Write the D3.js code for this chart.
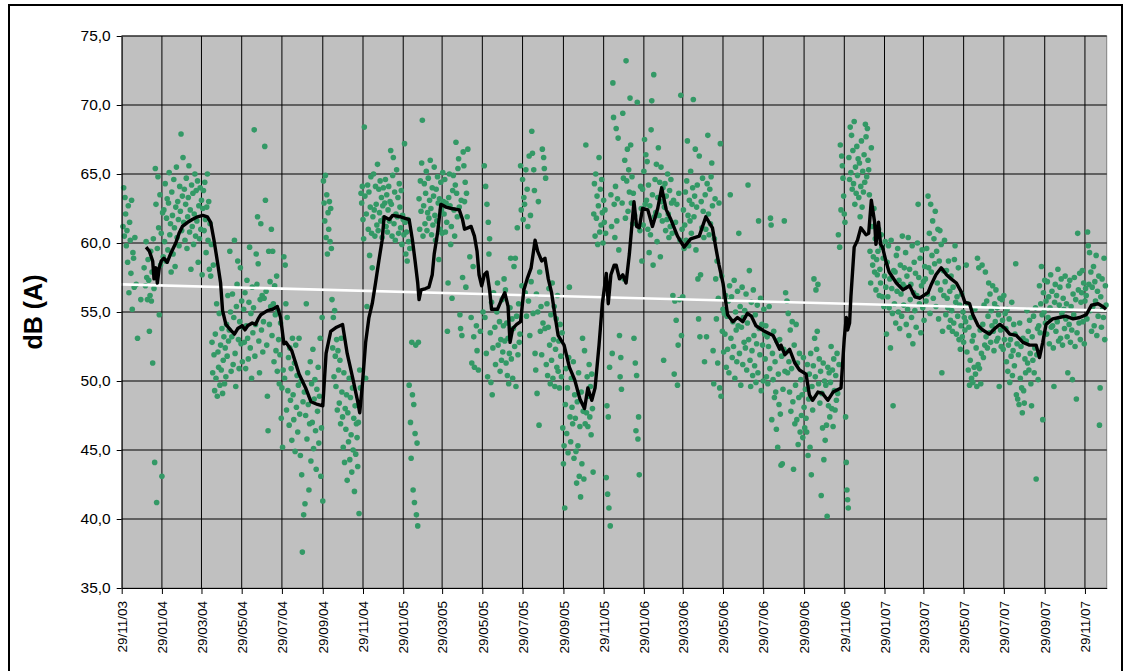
<!DOCTYPE html>
<html>
<head>
<meta charset="utf-8">
<script src="https://cdn.jsdelivr.net/npm/d3@7"></script>
<style>
  body { margin: 0; background: #fff; }
  text { font-family: "Liberation Sans", Arial, sans-serif; }
</style>
</head>
<body>
<div id="chart"></div>
<script>
// x axis labels, one every two months
const xTickLabels = ["29/11/03","29/01/04","29/03/04","29/05/04","29/07/04","29/09/04","29/11/04",
  "29/01/05","29/03/05","29/05/05","29/07/05","29/09/05","29/11/05","29/01/06","29/03/06",
  "29/05/06","29/07/06","29/09/06","29/11/06","29/01/07","29/03/07","29/05/07","29/07/07",
  "29/09/07","29/11/07"];
const yTicks = [35, 40, 45, 50, 55, 60, 65, 70, 75];
const xDomain = ["2003-11-29", "2008-01-01"];

// daily readings dB(A): one inner array per month, index = day - 1, empty slot = no reading
const db2003 = [
  [61.2,64.0,60.5,63.3,62.1,59.8,60.9,58.6,62.7,56.4,61.5,60.2,57.8,63.1,55.2,59.3,58.9,56.8,60.4,,57.0,,53.1,,,,,55.9]
];
const db2004 = [
  [,58.2,,56.9,60.1,57.5,55.9,58.8,57.3,53.6,56.2,59.4,55.8,57.9,51.3,60.3,56.7,44.1,65.4,62.8,41.2,59.6,64.8,61.1,54.8,63.5,58.4,60.7,43.1,62.2,59.0],
  [62.4,60.1,64.3,58.7,61.8,63.2,59.5,62.9,65.1,60.6,61.4,57.9,63.7,62.0,59.2,64.6,61.1,58.3,62.6,65.5,60.4,63.0,61.7,59.8,64.1,62.3,67.9,60.9,63.4],
  [66.2,61.5,63.9,60.2,62.8,64.7,59.6,61.9,63.3,65.6,60.8,62.4,58.1,64.2,61.2,63.6,59.9,62.1,65.0,60.5,63.8,61.6,64.5,58.6,62.7,60.3,64.0,61.0,63.1,57.7,62.5],
  [63.8,60.9,64.4,61.7,59.3,62.6,65.0,60.2,63.0,58.1,61.4,57.6,59.9,52.8,50.6,58.4,51.9,49.3,53.4,50.2,55.6,48.9,52.1,51.0,54.9,49.7,52.6,50.8,53.8,49.1],
  [51.5,53.2,49.8,52.4,50.3,54.1,51.8,56.2,52.9,53.7,59.4,55.0,50.7,53.2,56.3,51.2,54.6,60.2,52.0,49.6,55.4,57.0,58.7,53.0,50.9,54.3,58.2,52.7,55.8,51.4,53.9],
  [55.2,52.8,56.4,50.9,54.0,57.3,53.1,51.6,55.7,59.7,52.4,54.9,50.2,56.8,53.5,55.3,68.2,51.8,54.1,59.2,57.0,61.9,58.5,52.9,50.6,55.9,61.4,53.7,56.2,52.1],
  [54.3,56.0,67.0,63.1,56.5,52.6,48.9,46.4,59.4,54.1,57.2,55.4,61.0,53.3,59.4,55.6,51.4,56.9,54.8,52.2,57.6,50.7,55.1,53.0,49.8,51.9,54.2,47.3,49.5,45.2,50.8],
  [59.0,50.2,58.4,55.6,47.9,54.6,49.3,51.7,46.8,52.4,48.6,50.9,45.7,53.1,49.0,47.2,51.3,44.9,52.6,48.1,50.4,46.3,49.7,53.1,47.6,44.6,50.0,43.2,37.6,48.5,40.3],
  [49.2,41.1,47.5,55.6,45.8,50.6,48.3,42.1,46.9,51.4,44.2,49.8,47.0,52.3,45.1,48.7,50.1,46.4,43.6,49.4,47.8,51.0,45.5,48.9,53.1,43.1,46.6,54.6,41.3,64.5],
  [62.9,61.6,64.9,60.4,63.5,59.2,62.2,61.0,63.0,60.1,62.5,59.6,55.9,52.4,54.6,50.3,55.1,51.8,49.6,53.0,47.9,52.2,50.8,48.4,51.5,46.9,53.1,49.2,47.4,45.2,50.6],
  [44.1,48.0,46.5,49.0,42.8,47.7,45.6,50.2,44.3,48.8,46.1,43.4,49.5,45.0,47.3,42.0,48.2,44.7,46.9,45.9,43.8,47.0,40.4,50.8,49.5,63.6,62.9,64.1,61.7,60.3],
  [68.4,63.4,50.2,62.1,55.4,64.2,61.0,63.7,59.1,62.6,64.8,60.7,58.2,61.9,65.0,62.4,60.5,64.1,62.8,61.3,65.7,60.9,63.9,62.2,64.5,61.6,63.3,60.4,62.7,64.0,61.8]
];
const db2005 = [
  [62.9,64.6,61.2,63.5,60.8,62.4,64.1,61.6,63.0,66.7,62.8,60.5,64.9,66.2,61.4,63.7,60.2,62.1,65.3,61.9,63.3,60.7,64.3,62.6,61.1,63.8,59.9,62.0,61.7,60.6,67.2],
  [61.5,59.2,60.8,58.7,61.7,60.1,49.7,59.6,47.0,44.4,52.8,49.0,42.1,48.3,41.2,46.2,52.6,40.3,45.5,39.5,52.8,63.2,61.0,64.5,62.3,65.8,68.9,60.5],
  [62.7,64.3,61.4,63.6,65.2,60.9,62.2,64.7,61.8,63.1,66.0,62.5,60.6,64.0,61.3,63.4,65.5,62.0,60.2,63.9,61.6,64.8,62.9,58.8,63.2,61.0,64.4,62.4,60.7,65.1,63.0],
  [62.1,64.6,60.8,62.9,61.5,53.6,57.1,63.3,65.0,62.7,59.9,61.2,56.0,63.8,64.9,62.4,60.5,64.2,67.3,63.6,61.9,65.4,66.1,62.6,54.8,53.8,63.1,53.3,57.5,66.6],
  [65.6,63.0,64.4,56.8,63.6,61.9,66.8,,,59.0,,54.6,51.3,,58.3,53.2,51.0,,,54.0,52.2,,50.8,,,53.6,,,,55.0],
  [65.6,54.6,64.1,52.0,62.8,50.3,61.5,59.2,60.3,53.5,49.9,55.7,49.0,52.4,56.4,,53.9,51.2,,55.0,57.1,52.6,,54.3,50.7,53.0,51.5,55.9,52.1,54.0],
  [57.4,52.9,56.6,51.3,54.2,50.4,53.1,49.8,52.0,55.3,58.9,51.6,54.5,50.2,53.8,58.3,52.5,58.9,49.6,54.7,61.1,51.9,55.6,52.8,53.4,65.6,62.4,56.9,64.6,61.7,63.3],
  [62.8,56.4,65.3,54.7,63.9,61.2,55.8,66.3,53.3,62.0,57.2,68.1,66.5,54.9,65.3,63.8,52.0,50.8,56.3,49.1,55.0,63.0,46.8,57.9,53.6,55.4,51.9,66.8,54.2,66.2,65.4],
  [53.8,64.7,51.2,55.6,50.4,53.9,56.7,52.6,49.8,54.8,51.5,57.1,50.2,53.0,55.4,49.6,52.3,54.5,51.0,56.2,50.7,52.9,49.5,54.1,51.8,50.3,53.5,46.6,44.0,45.3],
  [40.8,48.3,50.9,46.2,49.5,44.8,51.7,56.8,47.4,45.6,50.2,48.1,46.9,51.4,44.4,49.0,47.3,44.9,42.6,48.5,45.3,50.6,43.1,46.7,41.6,49.2,44.0,53.1,47.8,42.9,52.2],
  [46.9,67.1,47.7,50.3,46.7,48.9,51.2,47.4,49.6,46.1,50.5,48.0,43.4,62.1,64.3,60.5,65.0,61.8,63.4,59.9,62.7,66.2,60.8,63.9,61.3,64.6,62.2,60.0,63.1,61.5],
  [62.4,60.7,43.0,48.2,41.8,47.4,40.8,51.0,39.5,63.5,61.2,52.0,71.6,69.1,62.8,60.4,64.1,68.3,61.6,63.2,67.6,59.5,53.3,50.3,51.7,49.4,62.9,69.4,64.7,57.4,66.0]
];
const db2006 = [
  [61.8,73.2,64.5,66.8,62.3,65.3,63.7,70.5,67.1,62.9,64.8,61.4,63.6,53.1,62.0,51.3,46.4,50.4,70.2,45.8,47.4,43.2,60.9,64.1,62.5,58.7,63.9,61.3,65.2,67.5,62.8],
  [66.4,63.1,65.9,61.0,64.2,59.3,62.7,60.6,68.2,70.3,63.5,58.4,72.2,61.9,64.6,62.2,65.7,60.1,63.3,66.9,62.0,64.4,59.0,65.5,63.0,61.6,64.0,51.5],
  [62.6,64.3,60.9,63.4,61.7,65.0,62.1,60.4,63.8,61.2,64.6,62.9,60.7,56.2,63.1,50.5,55.8,61.5,54.4,62.8,49.7,52.6,63.6,55.9,60.2,70.7,53.3,61.0,56.1,62.4,59.6],
  [61.3,63.7,60.2,64.5,67.4,62.0,59.8,63.1,61.6,65.2,60.7,62.8,64.0,70.4,61.9,63.4,66.8,59.5,62.6,64.2,57.4,54.5,66.3,53.2,57.7,63.0,61.1,64.7,62.3,60.4],
  [51.4,63.5,61.0,53.2,64.3,67.8,62.1,60.6,63.9,61.4,64.8,65.8,62.7,52.2,49.8,60.3,63.2,57.4,54.5,58.7,51.3,56.0,62.9,49.5,67.2,48.9,57.6,53.6,55.2,52.1,54.9],
  [53.4,56.2,51.0,54.7,52.3,55.8,50.6,56.9,63.5,53.1,56.1,51.7,54.3,52.5,57.3,50.2,55.0,53.7,51.4,56.5,54.0,60.7,52.0,55.4,49.7,53.9,56.8,51.2,54.6,52.8],
  [55.1,52.4,56.3,50.8,54.2,64.2,53.0,58.0,51.5,49.6,55.7,52.2,50.4,56.6,53.3,51.1,54.8,49.9,52.7,55.5,50.6,61.6,53.8,51.9,56.0,49.3,54.1,52.6,50.0,55.2,53.4],
  [51.6,54.0,50.3,53.2,49.8,52.5,55.4,50.9,61.8,61.3,47.2,52.0,50.1,53.6,48.8,51.4,49.2,46.5,52.9,45.2,50.5,48.3,53.0,47.6,43.9,51.8,44.0,49.4,52.3,61.6,50.7],
  [56.4,52.1,55.8,50.6,54.9,51.4,49.2,53.7,47.8,50.9,54.3,48.5,43.6,52.6,46.9,49.7,54.1,47.2,51.3,45.4,48.8,52.0,46.3,50.1,47.5,49.0,45.9,51.7,48.1,46.6],
  [49.4,47.3,46.3,51.2,44.6,48.7,50.5,45.2,52.0,43.2,49.6,47.9,51.1,57.4,53.1,50.3,56.6,52.3,53.6,57.0,49.8,51.6,48.4,50.7,41.7,49.1,46.6,51.3,44.3,50.0,45.7],
  [49.7,46.8,40.2,51.0,48.2,50.6,47.4,49.9,52.5,48.0,50.8,46.7,51.6,49.3,47.9,50.4,48.6,52.0,49.1,60.6,51.2,59.7,67.1,62.4,66.3,65.6,64.7,63.4,62.1,61.5],
  [47.4,44.1,42.1,41.4,40.8,66.2,64.6,68.4,65.1,67.8,63.9,66.7,64.3,68.8,62.8,65.5,63.6,67.0,64.9,66.1,63.3,65.8,61.9,64.1,67.4,62.6,65.2,63.7,66.4,64.4,68.6]
];
const db2007 = [
  [67.7,64.8,68.3,66.0,65.3,63.5,59.4,57.1,66.9,61.2,58.4,59.0,62.5,57.9,60.3,56.6,58.8,57.7,59.4,61.0,56.2,58.1,57.1,60.6,59.7,56.1,58.9,55.4,57.6,60.1,56.8],
  [53.4,58.6,56.1,59.8,55.3,57.4,52.4,60.2,56.7,54.9,48.2,58.0,55.6,57.9,54.2,59.1,56.5,59.6,55.0,57.3,53.8,58.4,56.3,54.7,60.5,57.0,55.5,58.2],
  [56.8,59.3,54.1,57.6,55.2,60.4,53.3,58.1,55.9,57.0,54.6,59.8,52.7,56.4,58.6,55.1,57.8,53.9,56.2,60.0,62.8,57.5,55.6,58.9,53.5,56.9,59.5,55.3,57.2,54.4,58.3],
  [57.4,55.8,59.6,56.3,63.4,58.2,60.7,54.9,62.8,57.9,59.1,61.6,56.0,60.3,58.5,62.3,55.4,59.4,57.1,61.0,54.5,58.7,60.9,56.6,59.9,50.6,53.6,58.0,56.2,60.2],
  [57.2,54.8,58.0,56.0,55.3,58.7,53.9,56.5,54.4,57.6,55.1,53.6,56.8,54.2,58.8,59.8,55.7,53.4,56.1,54.7,58.2,53.0,55.5,52.3,54.0,56.3,53.2,55.0,52.8,54.6,53.7],
  [54.3,58.4,52.1,55.6,50.8,53.9,49.7,51.5,54.6,50.2,52.9,49.9,53.3,51.0,55.2,50.5,52.4,49.6,58.9,51.2,58.2,50.9,53.7,49.8,52.0,58.4,54.1,51.7,55.5,52.6],
  [57.9,53.2,55.8,52.4,54.7,57.1,53.5,56.3,52.8,55.1,54.0,56.9,53.6,52.2,55.6,54.3,56.6,52.9,55.3,53.1,54.8,49.6,56.0,53.7,52.5,55.9,54.4,52.3,56.2,53.0,54.9],
  [53.8,51.4,55.2,50.7,52.6,54.5,49.9,53.0,51.8,55.7,50.4,52.2,54.1,51.1,53.4,58.5,49.0,52.7,48.7,51.9,48.3,54.2,50.2,52.5,49.5,47.7,53.1,49.3,48.4,51.6,50.6],
  [52.9,55.1,51.3,53.6,50.8,54.4,52.0,49.8,48.2,53.2,51.5,54.7,50.6,52.4,55.3,42.9,51.9,53.8,50.1,54.0,56.9,53.5,55.6,58.3,54.8,47.2,56.4,55.0,57.3,54.2],
  [55.8,53.4,57.2,54.6,56.1,52.7,55.3,57.7,53.9,56.5,54.0,52.4,49.6,55.7,57.0,53.6,56.2,54.3,58.1,52.9,55.5,56.8,53.1,57.4,54.9,52.6,56.0,55.2,53.8,57.6,54.5],
  [55.6,53.2,50.6,56.9,54.1,57.3,52.8,55.4,53.7,50.1,56.3,54.8,57.5,52.5,55.9,48.7,53.5,60.7,56.6,54.2,57.8,53.0,55.7,56.4,58.0,54.3,57.1,52.7,55.8,56.7],
  [56.2,54.5,60.8,59.8,57.0,59.3,55.1,57.9,53.6,56.8,55.4,58.3,54.0,57.2,55.8,59.1,53.3,56.5,54.7,57.6,46.8,49.5,56.1,53.9,57.4,55.2,54.6,58.9,53.0,56.9,55.5]
];
const dotYears = [[2003, 11, db2003], [2004, 0, db2004], [2005, 0, db2005], [2006, 0, db2006], [2007, 0, db2007]];

// moving average (black line)
const maDates = ["2004-01-05","2004-01-10","2004-01-15","2004-01-17","2004-01-20","2004-01-22","2004-01-25","2004-01-28",
  "2004-02-01","2004-02-06","2004-02-11","2004-02-19","2004-02-24","2004-02-29","2004-03-08","2004-03-15","2004-03-23",
  "2004-03-31","2004-04-07","2004-04-12","2004-04-17","2004-04-22","2004-04-27","2004-04-30","2004-05-05","2004-05-12",
  "2004-05-18","2004-05-23","2004-05-30","2004-06-03","2004-06-07","2004-06-14","2004-06-19","2004-06-23","2004-06-27",
  "2004-07-07","2004-07-15","2004-07-22","2004-07-27","2004-08-01","2004-08-04","2004-08-13","2004-08-24","2004-09-03",
  "2004-09-11","2004-09-21","2004-09-29","2004-10-04","2004-10-11","2004-10-20","2004-10-29","2004-11-05","2004-11-13",
  "2004-11-21","2004-11-24","2004-11-28","2004-12-03","2004-12-08","2004-12-13","2004-12-18","2004-12-23","2004-12-28",
  "2004-12-31","2005-01-08","2005-01-13","2005-01-25","2005-02-07","2005-02-12","2005-02-16","2005-02-20","2005-02-22",
  "2005-02-25","2005-03-04","2005-03-09","2005-03-14","2005-03-17","2005-03-22","2005-03-27","2005-04-04","2005-04-12",
  "2005-04-24","2005-04-29","2005-05-02","2005-05-07","2005-05-12","2005-05-17","2005-05-21","2005-05-24","2005-05-28",
  "2005-06-01","2005-06-05","2005-06-09","2005-06-12","2005-06-21","2005-06-29","2005-07-02","2005-07-07","2005-07-10",
  "2005-07-14","2005-07-20","2005-07-26","2005-07-31","2005-08-05","2005-08-11","2005-08-17","2005-08-21","2005-08-27",
  "2005-09-01","2005-09-06","2005-09-11","2005-09-16","2005-09-21","2005-09-30","2005-10-08","2005-10-16","2005-10-24",
  "2005-10-31","2005-11-05","2005-11-11","2005-11-16","2005-11-22","2005-11-27","2005-12-03","2005-12-06","2005-12-10",
  "2005-12-15","2005-12-18","2005-12-23","2005-12-28","2006-01-02","2006-01-07","2006-01-14","2006-01-18","2006-01-22",
  "2006-01-27","2006-02-04","2006-02-11","2006-02-19","2006-02-25","2006-03-04","2006-03-11","2006-03-21","2006-03-31",
  "2006-04-10","2006-04-23","2006-05-03","2006-05-13","2006-05-18","2006-05-23","2006-05-29","2006-06-05","2006-06-13",
  "2006-06-20","2006-06-28","2006-07-05","2006-07-11","2006-07-18","2006-07-31","2006-08-13","2006-08-23","2006-08-25",
  "2006-08-31","2006-09-07","2006-09-15","2006-09-22","2006-10-02","2006-10-07","2006-10-12","2006-10-20","2006-10-27",
  "2006-11-04","2006-11-12","2006-11-24","2006-11-29","2006-12-02","2006-12-04","2006-12-07","2006-12-09","2006-12-14",
  "2006-12-19","2006-12-24","2007-01-01","2007-01-05","2007-01-09","2007-01-14","2007-01-16","2007-01-20","2007-01-23",
  "2007-01-26","2007-01-31","2007-02-05","2007-02-16","2007-02-26","2007-03-08","2007-03-16","2007-03-23","2007-04-05",
  "2007-04-10","2007-04-17","2007-04-25","2007-05-03","2007-05-10","2007-05-18","2007-05-26","2007-05-31","2007-06-07",
  "2007-06-12","2007-06-20","2007-06-27","2007-07-07","2007-07-15","2007-07-23","2007-07-31","2007-08-07","2007-08-17",
  "2007-08-27","2007-09-06","2007-09-16","2007-09-21","2007-09-26","2007-10-01","2007-10-11","2007-10-21","2007-10-31",
  "2007-11-11","2007-11-21","2007-12-01","2007-12-09","2007-12-19","2007-12-26","2007-12-31"];
const maValues = [59.7,59.4,58.7,57.4,58.2,57.1,58.2,58.7,
  58.9,58.6,59.2,60.0,60.7,61.2,61.5,61.7,61.9,
  62.0,61.9,61.5,60.2,58.7,57.1,55.1,54.1,53.7,
  53.4,53.8,54.0,53.7,54.0,54.2,54.1,54.5,54.8,
  55.1,55.2,55.4,54.6,52.7,52.8,52.2,50.5,49.5,
  48.5,48.3,48.2,52.0,53.6,53.9,54.1,52.0,50.3,
  48.5,47.7,49.7,52.8,54.6,55.6,57.1,58.7,60.2,
  61.9,61.7,62.0,61.9,61.7,60.2,58.7,57.1,55.9,
  56.6,56.7,56.8,57.7,59.2,60.7,62.8,62.6,62.5,
  62.4,61.7,61.0,61.1,61.2,60.5,59.4,57.7,56.9,
  57.7,57.9,56.6,55.2,55.2,56.1,56.4,55.4,52.8,
  53.8,54.1,54.3,56.6,57.4,58.2,60.2,59.4,58.7,
  58.9,57.4,56.4,54.8,53.3,52.6,51.0,50.1,48.7,
  48.0,49.5,48.6,49.5,52.6,55.6,57.8,55.6,57.7,
  58.4,58.4,57.4,57.7,57.1,59.2,63.0,61.2,61.1,
  62.5,62.4,61.2,62.5,64.0,62.4,61.7,60.5,59.7,
  60.3,60.5,61.9,61.1,59.7,58.4,57.1,54.8,54.3,
  54.6,54.3,54.9,54.7,54.0,53.6,53.3,52.3,52.6,
  51.9,52.3,51.3,50.8,50.5,49.0,48.6,49.2,49.1,
  48.6,49.2,49.5,53.1,54.6,53.7,54.2,56.1,59.7,
  60.2,61.1,60.6,60.7,63.1,61.5,59.9,61.5,59.9,
  59.7,58.7,57.9,57.1,56.6,56.9,56.1,56.0,56.4,
  57.0,57.7,58.2,57.7,57.4,57.1,56.4,55.7,55.6,
  54.8,54.0,53.7,53.4,53.8,54.1,53.8,53.4,53.3,
  52.8,52.6,52.6,51.7,52.8,54.1,54.5,54.6,54.7,
  54.5,54.6,54.8,55.5,55.6,55.4,55.2];

// linear trend (white line), end points
const trendDates = ["2003-11-29", "2008-01-01"];
const trendValues = [57.0, 55.1];

const parseDay = d3.timeParse("%Y-%m-%d");
const parseTick = d3.timeParse("%d/%m/%y");

const margin = { top: 36, right: 23.3, bottom: 83, left: 121.7 };
const width = 1130 - margin.left - margin.right;
const height = 671 - margin.top - margin.bottom;

const svg = d3.select("#chart").append("svg")
  .attr("width", 1130)
  .attr("height", 671);

// outer frame
svg.append("rect")
  .attr("x", 9).attr("y", 5)
  .attr("width", 1113).attr("height", 700)
  .attr("fill", "#fff")
  .attr("stroke", "#000")
  .attr("stroke-width", 2);

const g = svg.append("g")
  .attr("transform", "translate(" + margin.left + "," + margin.top + ")");

const x = d3.scaleTime()
  .domain(xDomain.map(parseDay))
  .range([0, width]);
const y = d3.scaleLinear()
  .domain([35, 75])
  .range([height, 0]);

const tickDates = xTickLabels.map(parseTick);

g.append("rect")
  .attr("width", width)
  .attr("height", height)
  .attr("fill", "#c0c0c0")
  .attr("stroke", "#808080");

// grid
g.append("g").selectAll("line")
  .data(yTicks.slice(1))
  .join("line")
  .attr("x1", 0).attr("x2", width)
  .attr("y1", d => y(d)).attr("y2", d => y(d))
  .attr("stroke", "#000");
g.append("g").selectAll("line")
  .data(tickDates.slice(1))
  .join("line")
  .attr("x1", d => x(d)).attr("x2", d => x(d))
  .attr("y1", 0).attr("y2", height)
  .attr("stroke", "#000");

// daily dots
const dots = [];
dotYears.forEach(([yr, m0, months]) => {
  months.forEach((days, mi) => {
    days.forEach((v, di) => {
      dots.push({ date: new Date(yr, m0 + mi, di + 1), v: v });
    });
  });
});
g.append("g").selectAll("circle")
  .data(dots)
  .join("circle")
  .attr("cx", d => x(d.date))
  .attr("cy", d => y(d.v))
  .attr("r", 2.8)
  .attr("fill", "#339966");

// trend
g.append("path")
  .datum(trendDates.map((d, i) => ({ date: parseDay(d), v: trendValues[i] })))
  .attr("fill", "none")
  .attr("stroke", "#fff")
  .attr("stroke-width", 2.6)
  .attr("d", d3.line().x(d => x(d.date)).y(d => y(d.v)));

// moving average
g.append("path")
  .datum(maDates.map((d, i) => ({ date: parseDay(d), v: maValues[i] })))
  .attr("fill", "none")
  .attr("stroke", "#000")
  .attr("stroke-width", 3.4)
  .attr("stroke-linejoin", "round")
  .attr("d", d3.line().x(d => x(d.date)).y(d => y(d.v)));

// axes
const yAxis = g.append("g")
  .call(d3.axisLeft(y)
    .tickValues(yTicks)
    .tickSize(5)
    .tickSizeOuter(0)
    .tickPadding(6)
    .tickFormat(d => d.toFixed(1).replace(".", ",")));
yAxis.attr("font-size", null).attr("font-family", null);
yAxis.selectAll("text").style("font-size", "15.5px").attr("fill", "#000");

const xAxis = g.append("g")
  .attr("transform", "translate(0," + height + ")")
  .call(d3.axisBottom(x)
    .tickValues(tickDates)
    .tickSize(6)
    .tickSizeOuter(0)
    .tickFormat((d, i) => xTickLabels[i]));
xAxis.attr("font-size", null).attr("font-family", null);
xAxis.selectAll("text")
  .attr("transform", "rotate(-90)")
  .attr("x", -13)
  .attr("y", 0)
  .attr("dy", "0.35em")
  .style("text-anchor", "end")
  .style("font-size", "13.5px")
  .attr("fill", "#000");

svg.append("text")
  .attr("transform", "translate(42,312) rotate(-90)")
  .attr("text-anchor", "middle")
  .style("font-size", "25px")
  .style("font-weight", "bold")
  .text("dB (A)");
</script>
</body>
</html>
